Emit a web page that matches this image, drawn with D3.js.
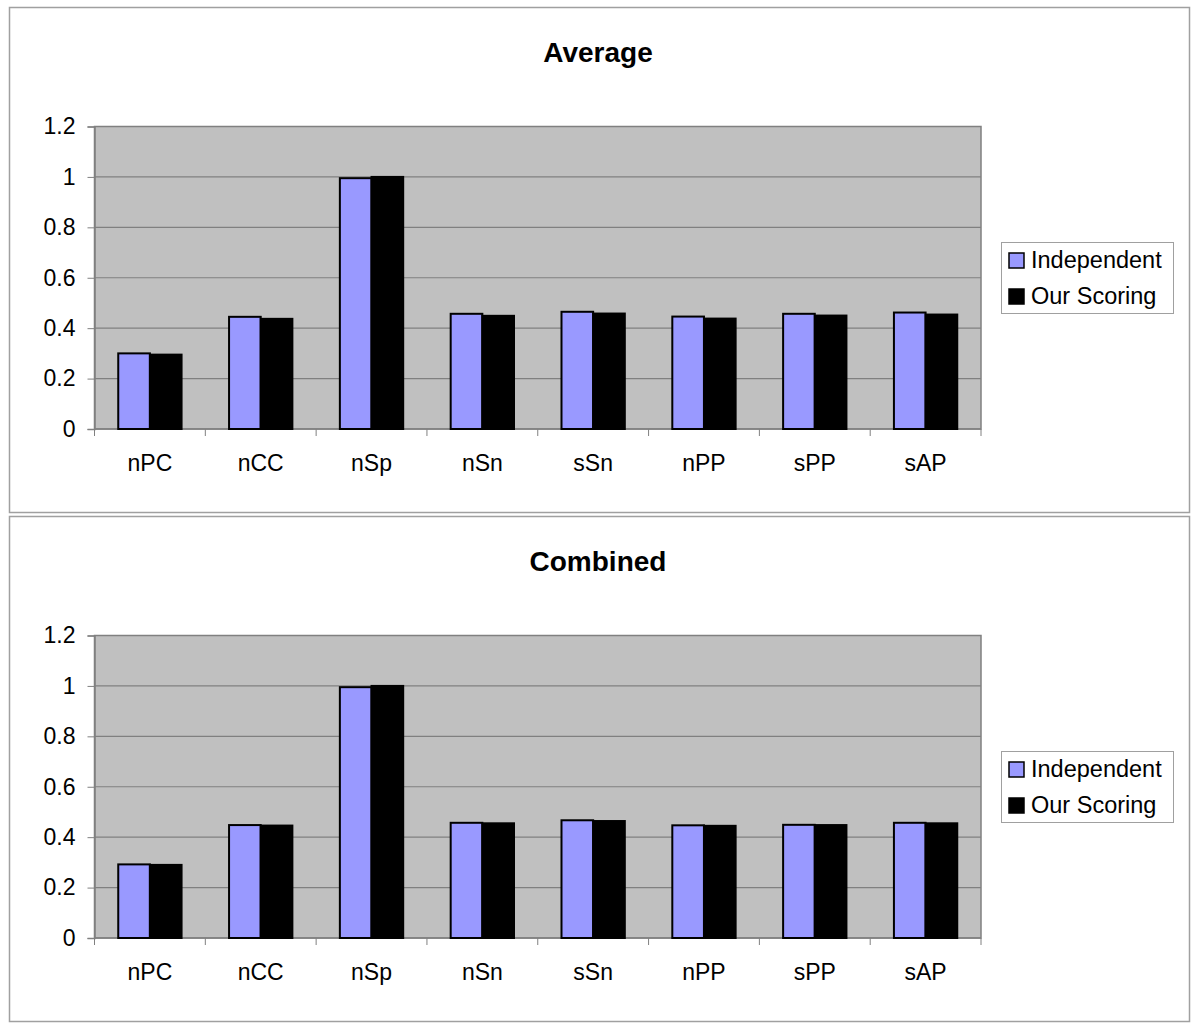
<!DOCTYPE html>
<html>
<head>
<meta charset="utf-8">
<script src="https://cdn.jsdelivr.net/npm/d3@7"></script>
<style>
  body { margin: 0; background: #fff; }
  text { font-family: "Liberation Sans", Arial, sans-serif; }
</style>
</head>
<body>
<div id="chart"></div>
<script>
// data
const categories = ["nPC", "nCC", "nSp", "nSn", "sSn", "nPP", "sPP", "sAP"];
const seriesNames = ["Independent", "Our Scoring"];
const avgIndependent = [0.300, 0.445, 0.995, 0.457, 0.465, 0.446, 0.457, 0.462];
const avgOurScoring  = [0.295, 0.437, 1.000, 0.449, 0.458, 0.438, 0.450, 0.454];
const combIndependent = [0.292, 0.448, 0.995, 0.457, 0.467, 0.447, 0.449, 0.457];
const combOurScoring  = [0.290, 0.446, 1.000, 0.455, 0.464, 0.445, 0.448, 0.455];
const yTicks = [0, 0.2, 0.4, 0.6, 0.8, 1, 1.2];

const width = 1200, height = 1031;
const colors = ["#9999ff", "#000000"];

const svg = d3.select("#chart").append("svg")
  .attr("width", width)
  .attr("height", height);

drawPanel("Average", avgIndependent, avgOurScoring, 0);
drawPanel("Combined", combIndependent, combOurScoring, 509);

function drawPanel(title, indep, ours, offset) {
  const g = svg.append("g").attr("transform", "translate(0," + offset + ")");

  // outer frame
  g.append("rect")
    .attr("x", 9.5).attr("y", 7.5)
    .attr("width", 1180).attr("height", 505)
    .attr("fill", "#fff")
    .attr("stroke", "#a0a0a0")
    .attr("stroke-width", 1.5);

  g.append("text")
    .text(title)
    .attr("x", 598).attr("y", 62)
    .attr("text-anchor", "middle")
    .style("font-size", "28px")
    .style("font-weight", "bold");

  const left = 94.5, right = 981, top = 126.5, bottom = 429;

  const x = d3.scaleBand().domain(categories).range([left, right])
    .paddingInner(1.5 / 3.5).paddingOuter(0.75 / 3.5);
  const xs = d3.scaleBand().domain(seriesNames).range([0, x.bandwidth()]);
  const y = d3.scaleLinear().domain([0, 1.2]).range([bottom, top]);

  // plot background
  g.append("rect")
    .attr("x", left).attr("y", top)
    .attr("width", right - left).attr("height", bottom - top)
    .attr("fill", "#c0c0c0")
    .attr("stroke", "#808080")
    .attr("stroke-width", 1.5);

  // gridlines
  g.selectAll(".grid").data(yTicks.filter(d => d > 0 && d < 1.2)).enter()
    .append("line")
    .attr("x1", left).attr("x2", right)
    .attr("y1", d => y(d)).attr("y2", d => y(d))
    .attr("stroke", "#808080")
    .attr("stroke-width", 1.2);

  // y axis
  const yAxis = g.append("g")
    .attr("transform", "translate(" + left + ",0)")
    .call(d3.axisLeft(y).tickValues(yTicks).tickSize(7).tickPadding(12)
      .tickFormat(d => d3.format("")(d)));
  yAxis.select(".domain").attr("stroke", "#808080").attr("stroke-width", 1.5);
  yAxis.selectAll(".tick line").attr("stroke", "#808080");
  yAxis.selectAll("text").style("font-size", "23px").attr("fill", "#000");

  // x axis (ticks at category boundaries)
  const step = x.step();
  const bounds = d3.range(categories.length + 1).map(i => left + i * step);
  g.append("line")
    .attr("x1", left).attr("x2", right)
    .attr("y1", bottom).attr("y2", bottom)
    .attr("stroke", "#808080").attr("stroke-width", 1.5);
  g.selectAll(".xtick").data(bounds).enter()
    .append("line")
    .attr("x1", d => d).attr("x2", d => d)
    .attr("y1", bottom).attr("y2", bottom + 7)
    .attr("stroke", "#808080");
  g.selectAll(".xlabel").data(categories).enter()
    .append("text")
    .text(d => d)
    .attr("x", d => x(d) + x.bandwidth() / 2)
    .attr("y", bottom + 42)
    .attr("text-anchor", "middle")
    .style("font-size", "23px");

  // bars
  const rows = categories.map((c, i) => ({ cat: c, vals: [indep[i], ours[i]] }));
  const grp = g.selectAll(".cat").data(rows).enter()
    .append("g")
    .attr("transform", d => "translate(" + x(d.cat) + ",0)");
  grp.selectAll("rect").data(d => d.vals.map((v, j) => ({ name: seriesNames[j], v: v, j: j }))).enter()
    .append("rect")
    .attr("x", d => xs(d.name))
    .attr("y", d => y(d.v))
    .attr("width", xs.bandwidth())
    .attr("height", d => bottom - y(d.v))
    .attr("fill", d => colors[d.j])
    .attr("stroke", "#000")
    .attr("stroke-width", 2);

  // legend
  const lg = g.append("g").attr("transform", "translate(1001,242)");
  lg.append("rect")
    .attr("x", 0.5).attr("y", 0.5)
    .attr("width", 172).attr("height", 71)
    .attr("fill", "#fff")
    .attr("stroke", "#a0a0a0");
  seriesNames.forEach((s, i) => {
    lg.append("rect")
      .attr("x", 8).attr("y", 11 + i * 36)
      .attr("width", 15).attr("height", 15)
      .attr("fill", colors[i])
      .attr("stroke", "#000")
      .attr("stroke-width", 1.5);
    lg.append("text")
      .text(s)
      .attr("x", 30).attr("y", 26 + i * 36)
      .style("font-size", "23.5px");
  });
}
</script>
</body>
</html>
